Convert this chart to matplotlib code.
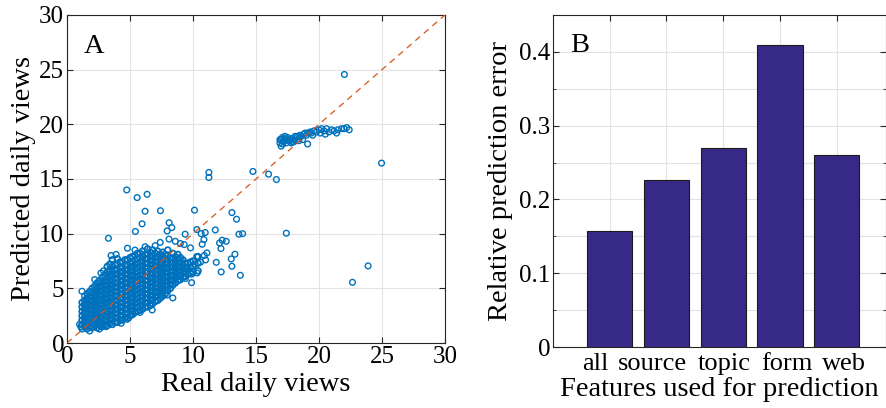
import matplotlib
matplotlib.use("Agg")
import matplotlib.pyplot as plt
from matplotlib.transforms import ScaledTranslation

plt.rcParams['font.family'] = ['Liberation Serif', 'DejaVu Serif']

# ---- panel A: real vs predicted daily views ----
# dense cloud
col_x = [1.2, 1.4, 1.6, 1.8, 2.0, 2.2, 2.4, 2.6, 2.8, 3.0, 3.2, 3.4, 3.6, 3.8,
         4.0, 4.2, 4.4, 4.6, 4.8, 5.0, 5.2, 5.4, 5.6, 5.8, 6.0, 6.2, 6.4, 6.6,
         6.8, 7.0, 7.2, 7.4, 7.6, 7.8, 8.0, 8.2, 8.4, 8.6, 8.8, 9.0, 9.2, 9.4,
         9.6, 9.8, 10.0, 10.4]
col_y = [
    [1.3, 1.7, 2.1, 2.5, 2.9, 3.3, 3.7],
    [1.5, 1.9, 2.3, 2.7, 3.1, 3.5, 3.9],
    [1.3, 1.7, 2.1, 2.5, 2.9, 3.3, 3.7, 4.1, 4.5],
    [1.5, 1.9, 2.3, 2.7, 3.1, 3.5, 3.9, 4.3, 4.7],
    [1.4, 1.8, 2.2, 2.6, 3.0, 3.4, 3.8, 4.2, 4.6, 5.0],
    [1.6, 2.0, 2.4, 2.8, 3.2, 3.6, 4.0, 4.4, 4.8, 5.2],
    [1.4, 1.8, 2.2, 2.6, 3.0, 3.4, 3.8, 4.2, 4.6, 5.0, 5.5],
    [1.6, 2.0, 2.4, 2.8, 3.2, 3.6, 4.0, 4.4, 4.8, 5.2, 5.7],
    [1.5, 1.9, 2.3, 2.7, 3.1, 3.5, 3.9, 4.3, 4.7, 5.1, 5.5, 6.0],
    [1.7, 2.1, 2.5, 2.9, 3.3, 3.7, 4.1, 4.5, 4.9, 5.3, 5.7, 6.2],
    [1.6, 2.0, 2.4, 2.8, 3.2, 3.6, 4.0, 4.4, 4.8, 5.2, 5.6, 6.0, 6.5, 7.0],
    [1.8, 2.2, 2.6, 3.0, 3.4, 3.8, 4.2, 4.6, 5.0, 5.4, 5.8, 6.2, 6.7, 7.2],
    [1.7, 2.1, 2.5, 2.9, 3.3, 3.7, 4.1, 4.5, 4.9, 5.3, 5.7, 6.1, 6.5, 7.0, 7.6],
    [1.9, 2.3, 2.7, 3.1, 3.5, 3.9, 4.3, 4.7, 5.1, 5.5, 5.9, 6.3, 6.7, 7.2],
    [1.9, 2.3, 2.7, 3.1, 3.5, 3.9, 4.3, 4.7, 5.1, 5.5, 5.9, 6.3, 6.7, 7.2, 7.7],
    [2.1, 2.5, 2.9, 3.3, 3.7, 4.1, 4.5, 4.9, 5.3, 5.7, 6.1, 6.5, 6.9, 7.4],
    [2.1, 2.5, 2.9, 3.3, 3.7, 4.1, 4.5, 4.9, 5.3, 5.7, 6.1, 6.5, 6.9, 7.4],
    [2.3, 2.7, 3.1, 3.5, 3.9, 4.3, 4.7, 5.1, 5.5, 5.9, 6.3, 6.7, 7.1, 7.6],
    [2.3, 2.7, 3.1, 3.5, 3.9, 4.3, 4.7, 5.1, 5.5, 5.9, 6.3, 6.7, 7.1, 7.6],
    [2.5, 2.9, 3.3, 3.7, 4.1, 4.5, 4.9, 5.3, 5.7, 6.1, 6.5, 6.9, 7.3, 7.8],
    [2.6, 3.0, 3.4, 3.8, 4.2, 4.6, 5.0, 5.4, 5.8, 6.2, 6.6, 7.0, 7.4, 7.9],
    [2.8, 3.2, 3.6, 4.0, 4.4, 4.8, 5.2, 5.6, 6.0, 6.4, 6.8, 7.2, 7.6, 8.0],
    [2.9, 3.3, 3.7, 4.1, 4.5, 4.9, 5.3, 5.7, 6.1, 6.5, 6.9, 7.3, 7.7, 8.2],
    [3.0, 3.4, 3.8, 4.2, 4.6, 5.0, 5.4, 5.8, 6.2, 6.6, 7.0, 7.4, 7.8, 8.2],
    [3.1, 3.5, 3.9, 4.3, 4.7, 5.1, 5.5, 5.9, 6.3, 6.7, 7.1, 7.5, 7.9, 8.4],
    [3.3, 3.7, 4.1, 4.5, 4.9, 5.3, 5.7, 6.1, 6.5, 6.9, 7.3, 7.7, 8.1],
    [3.3, 3.7, 4.1, 4.5, 4.9, 5.3, 5.7, 6.1, 6.5, 6.9, 7.3, 7.7, 8.1, 8.6],
    [3.5, 3.9, 4.3, 4.7, 5.1, 5.5, 5.9, 6.3, 6.7, 7.1, 7.5, 7.9, 8.3],
    [3.6, 4.0, 4.4, 4.8, 5.2, 5.6, 6.0, 6.4, 6.8, 7.2, 7.6, 8.0, 8.5],
    [3.8, 4.2, 4.6, 5.0, 5.4, 5.8, 6.2, 6.6, 7.0, 7.4, 7.8, 8.2],
    [3.9, 4.3, 4.7, 5.1, 5.5, 5.9, 6.3, 6.7, 7.1, 7.5, 7.9, 8.4],
    [4.1, 4.5, 4.9, 5.3, 5.7, 6.1, 6.5, 6.9, 7.3, 7.7, 8.1],
    [4.3, 4.7, 5.1, 5.5, 5.9, 6.3, 6.7, 7.1, 7.5, 7.9, 8.3],
    [4.5, 4.9, 5.3, 5.7, 6.1, 6.5, 6.9, 7.3, 7.7, 8.1],
    [4.8, 5.2, 5.6, 6.0, 6.4, 6.8, 7.2, 7.6, 8.0, 8.5],
    [5.0, 5.4, 5.8, 6.2, 6.6, 7.0, 7.4, 7.8],
    [5.3, 5.7, 6.1, 6.5, 6.9, 7.3, 7.7, 8.2],
    [5.5, 5.9, 6.3, 6.7, 7.1, 7.5, 7.9],
    [5.7, 6.1, 6.5, 6.9, 7.3, 7.7, 8.1],
    [5.8, 6.2, 6.6, 7.0, 7.4, 7.8],
    [6.0, 6.4, 6.8, 7.2, 7.6],
    [6.1, 6.5, 6.9, 7.3],
    [6.3, 6.8, 7.3],
    [6.4, 6.9, 7.4],
    [6.5, 7.0, 7.5],
    [6.6, 7.3, 7.9],
]

# sparse points around the cloud
rim_x = [1.19, 1.4, 1.1, 2.57, 4.77, 4.9, 6.76, 7.95, 8.40, 9.89, 10.33, 3.29, 4.80,
         2.2, 2.9, 3.5, 3.9, 5.4, 6.2, 7.0, 7.4, 8.1, 8.6, 9.0, 9.3, 9.8, 10.3, 10.6,
         10.1, 9.5, 9.9, 10.9, 11.0, 1.8, 3.1, 5.8, 6.6, 9.4, 1.0, 2.7, 4.3, 5.1]
rim_y = [4.73, 4.3, 1.5, 1.28, 2.17, 2.3, 3.02, 4.39, 4.12, 5.52, 6.41, 9.58, 8.67,
         5.8, 6.6, 8.0, 8.1, 8.5, 8.8, 8.9, 9.2, 9.5, 9.3, 9.1, 9.0, 8.7, 7.9, 7.4,
         7.2, 6.8, 6.3, 8.0, 7.6, 1.1, 1.5, 2.8, 3.4, 5.9, 1.7, 6.4, 1.8, 2.6]

# isolated points
out_x = [4.74, 5.57, 6.36, 6.20, 5.96, 5.43, 7.42, 8.11, 8.32, 7.95, 9.38, 10.12,
         10.31, 11.26, 11.26, 10.65, 10.97, 10.87, 10.73, 11.77, 13.09, 13.46, 13.65,
         13.94, 12.11, 12.32, 12.64, 12.22, 11.11, 13.33, 13.04, 11.85, 13.09, 12.24,
         13.76, 14.76, 16.0, 16.62, 17.41, 22.02, 24.97, 23.9, 22.66]
out_y = [14.0, 13.3, 13.6, 12.05, 10.9, 10.2, 12.1, 11.0, 10.56, 10.25, 9.95, 12.15,
         10.38, 15.6, 15.14, 10.0, 10.1, 9.46, 9.03, 10.34, 11.93, 11.32, 9.95,
         10.0, 9.15, 9.4, 9.3, 8.64, 8.24, 8.12, 7.69, 7.38, 7.02, 6.5,
         6.19, 15.69, 15.44, 14.95, 10.04, 24.56, 16.45, 7.05, 5.55]

# high-view group near y = 19
top_x = [16.9, 17.0, 17.1, 17.2, 17.3, 17.0, 17.2, 17.4, 17.1, 17.5, 17.6, 17.8,
         17.9, 18.0, 18.2, 18.3, 18.5, 18.6, 18.8, 18.9, 19.0, 19.1, 19.3, 19.4,
         19.6, 19.8, 20.0, 20.2, 20.4, 20.6, 20.8, 21.0, 21.2, 21.5, 21.8, 22.0,
         22.2, 22.4, 18.4, 18.7, 19.1, 19.5, 17.8, 18.1, 20.1, 20.5, 21.4,
         16.9, 17.3, 17.5, 17.7, 18.0, 18.4]
top_y = [18.3, 18.6, 18.2, 18.5, 18.7, 18.0, 18.4, 18.3, 18.8, 18.6, 18.5, 18.7,
         18.4, 18.6, 18.8, 18.9, 19.0, 18.9, 19.1, 19.2, 19.0, 19.2, 19.3, 19.2,
         19.4, 19.3, 19.5, 19.6, 19.4, 19.6, 19.3, 19.5, 19.4, 19.5, 19.6, 19.6,
         19.7, 19.5, 18.5, 18.6, 18.2, 19.0, 18.3, 18.9, 19.2, 19.1, 19.2,
         18.6, 18.9, 18.8, 18.6, 18.4, 18.7]

# ---- panel B: prediction error by feature set ----
features = ['all', 'source', 'topic', 'form', 'web']
errors = [0.157, 0.227, 0.270, 0.409, 0.260]

blue = '#0072BD'
orange = '#D95319'
grid_c = '#e3e3e3'
spine_c = '#262626'

blob_x = [x for x, ys in zip(col_x, col_y) for _ in ys]
blob_y = [y for ys in col_y for y in ys]

fig = plt.figure(figsize=(8.86, 4.08), dpi=100)

ax = fig.add_axes([0.0756, 0.1593, 0.4266, 0.804])
ax.scatter(blob_x, blob_y, s=17, facecolors='none', edgecolors=blue, linewidths=1.3, zorder=3)
for xs, ys in [(rim_x, rim_y), (out_x, out_y), (top_x, top_y)]:
    ax.scatter(xs, ys, s=17, facecolors='none', edgecolors=blue, linewidths=1.0, zorder=3)
ax.plot([0, 30], [0, 30], '--', color=orange, lw=0.9, dashes=(5, 4), zorder=4)
ax.set_xlim(0, 30)
ax.set_ylim(0, 30)
ax.set_xticks([0, 5, 10, 15, 20, 25, 30])
ax.set_yticks([0, 5, 10, 15, 20, 25, 30])
ax.grid(True, color=grid_c, lw=0.8)
ax.set_axisbelow(True)
ax.tick_params(direction='in', top=True, right=True, labelsize=18, length=4, pad=2,
               color=spine_c)
ax.set_xlabel('Real daily views', fontsize=20.5, labelpad=3)
ax.set_ylabel('Predicted daily views', fontsize=20.5, labelpad=2)
ax.text(1.3, 27.1, 'A', fontsize=20.5, va='center', ha='left')

bx = fig.add_axes([0.6242, 0.1495, 0.3758, 0.8137])
pos = list(range(1, len(features) + 1))
bx.bar(pos, errors, width=0.8, color='#372a87', edgecolor='#1a1a1a', lw=0.8, zorder=3)
bx.set_xlim(0, 5.87)
bx.set_ylim(0, 0.45)
bx.set_xticks(pos)
bx.set_xticklabels(features)
bx.set_yticks([0, 0.1, 0.2, 0.3, 0.4])
bx.set_yticklabels(['0', '0.1', '0.2', '0.3', '0.4'])
bx.set_yticks([0.05, 0.15, 0.25, 0.35], minor=True)
bx.grid(True, which='both', color=grid_c, lw=0.8)
bx.set_axisbelow(True)
bx.tick_params(which='both', direction='in', top=True, right=True, labelsize=18,
               length=4, pad=2, color=spine_c)
bx.tick_params(axis='x', labelsize=19, pad=4)
bx.tick_params(which='minor', length=2)
# the category names sit a little off their ticks in the original
label_shift = [-14, -14, 1, 7, 7]
for lbl, dx in zip(bx.get_xticklabels(), label_shift):
    lbl.set_transform(lbl.get_transform() + ScaledTranslation(dx / 100, 0, fig.dpi_scale_trans))
bx.set_xlabel('Features used for prediction', fontsize=20.5, labelpad=2)
bx.set_ylabel('Relative prediction error', fontsize=20.5, labelpad=4)
bx.text(0.3, 0.409, 'B', fontsize=20.5, va='center', ha='left')

for a in (ax, bx):
    for s in a.spines.values():
        s.set_color(spine_c)

fig.savefig('out.png', dpi=100)
